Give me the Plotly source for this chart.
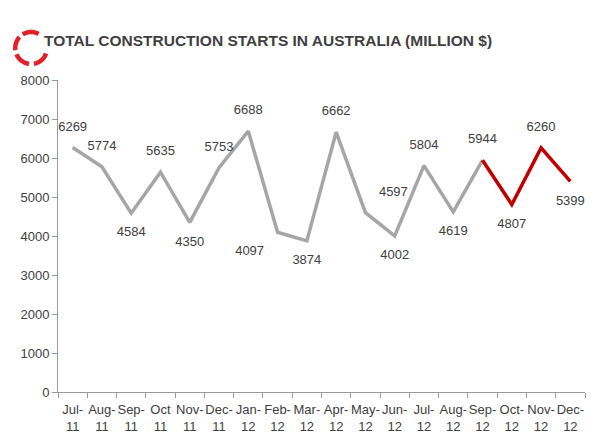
import numpy as np
import plotly.graph_objects as go

months = ["Jul-<br>11", "Aug-<br>11", "Sep-<br>11", "Oct<br>11", "Nov-<br>11", "Dec-<br>11",
          "Jan-<br>12", "Feb-<br>12", "Mar-<br>12", "Apr-<br>12", "May-<br>12", "Jun-<br>12",
          "Jul-<br>12", "Aug-<br>12", "Sep-<br>12", "Oct-<br>12", "Nov-<br>12", "Dec-<br>12"]
starts = [6269, 5774, 4584, 5635, 4350, 5753, 6688, 4097, 3874, 6662,
          4597, 4002, 5804, 4619, 5944, 4807, 6260, 5399]
n_hist = 15  # gray up to Sep-12, red from Sep-12 on

label_pos = ["top center", "top center", "bottom center", "top center", "bottom center",
             "top center", "top center", "bottom left", "bottom center", "top center",
             "top right", "bottom center", "top center", "bottom center", "top center",
             "bottom center", "top center", "bottom center"]

# page body has an 8px margin, so the figure is drawn 8px in from the window edge
off = 8
W, H = 600 - off, 448 - off
ml, mt = 55 - off, 80 - off
pw, ph = 530, 312
mr, mb = W - ml - pw, H - mt - ph

gray_y = starts[:n_hist] + [None] * (len(starts) - n_hist)
red_y = [None] * (n_hist - 1) + starts[n_hist - 1:]
gray_txt = [str(v) for v in starts[:n_hist]] + [""] * (len(starts) - n_hist)
red_txt = [""] * n_hist + [str(v) for v in starts[n_hist:]]

fnt = dict(family="Liberation Sans, Arial, sans-serif", size=13, color="#404040")
ghost = dict(size=20, opacity=0)

fig = go.Figure()
fig.add_trace(go.Scatter(x=months, y=gray_y, mode="lines+markers+text", text=gray_txt,
                         textposition=label_pos, textfont=fnt, marker=ghost,
                         line=dict(color="#a6a6a6", width=3.5), cliponaxis=False,
                         hoverinfo="x+y"))
fig.add_trace(go.Scatter(x=months, y=red_y, mode="lines+markers+text", text=red_txt,
                         textposition=label_pos, textfont=fnt, marker=ghost,
                         line=dict(color="#c00000", width=3.5), cliponaxis=False,
                         hoverinfo="x+y"))


# red broken ring next to the title, drawn as arcs in window pixels -> paper
def px2paper(px, py):
    return (px - off - ml) / pw, (H - mb - (py - off)) / ph


cx, cy, r = 28, 48, 16
arcs = [(62, 122), (137, 188), (203, 262), (280, 340)]
shapes = []
for a0, a1 in arcs:
    t = np.radians(np.linspace(a0, a1, 20))
    pts = [px2paper(cx + r * np.cos(a), cy - r * np.sin(a)) for a in t]
    path = "M " + " L ".join(f"{x:.4f},{y:.4f}" for x, y in pts)
    shapes.append(dict(type="path", path=path, xref="paper", yref="paper",
                       line=dict(color="#e3202a", width=4.5)))

tx, ty = px2paper(39, 40)

fig.update_layout(
    width=W, height=H,
    margin=dict(l=ml, r=mr, t=mt, b=mb),
    plot_bgcolor="white", paper_bgcolor="white",
    showlegend=False,
    shapes=shapes,
    annotations=[dict(text="<b>TOTAL CONSTRUCTION STARTS IN AUSTRALIA (MILLION $)</b>",
                      x=tx, y=ty, xref="paper", yref="paper", xanchor="left",
                      yanchor="middle", showarrow=False,
                      font=dict(family="Liberation Sans, Arial, sans-serif", size=15.5,
                                color="#3f3f3f"))],
    xaxis=dict(type="category", range=[-0.5, len(months) - 0.5], showline=True,
               linecolor="#999999", linewidth=1,
               ticks="outside", tickson="boundaries", ticklen=5, tickcolor="#999999",
               showgrid=False, tickangle=0, ticklabelstandoff=5,
               tickfont=dict(family="Liberation Sans, Arial, sans-serif", size=13,
                             color="#404040")),
    yaxis=dict(range=[0, 8000], dtick=1000, tickformat="d", showline=True,
               linecolor="#999999", linewidth=1, ticks="outside", ticklen=5,
               tickcolor="#999999", showgrid=False, zeroline=False,
               tickfont=dict(family="Liberation Sans, Arial, sans-serif", size=13,
                             color="#404040")),
)

fig.write_html("out.html")
